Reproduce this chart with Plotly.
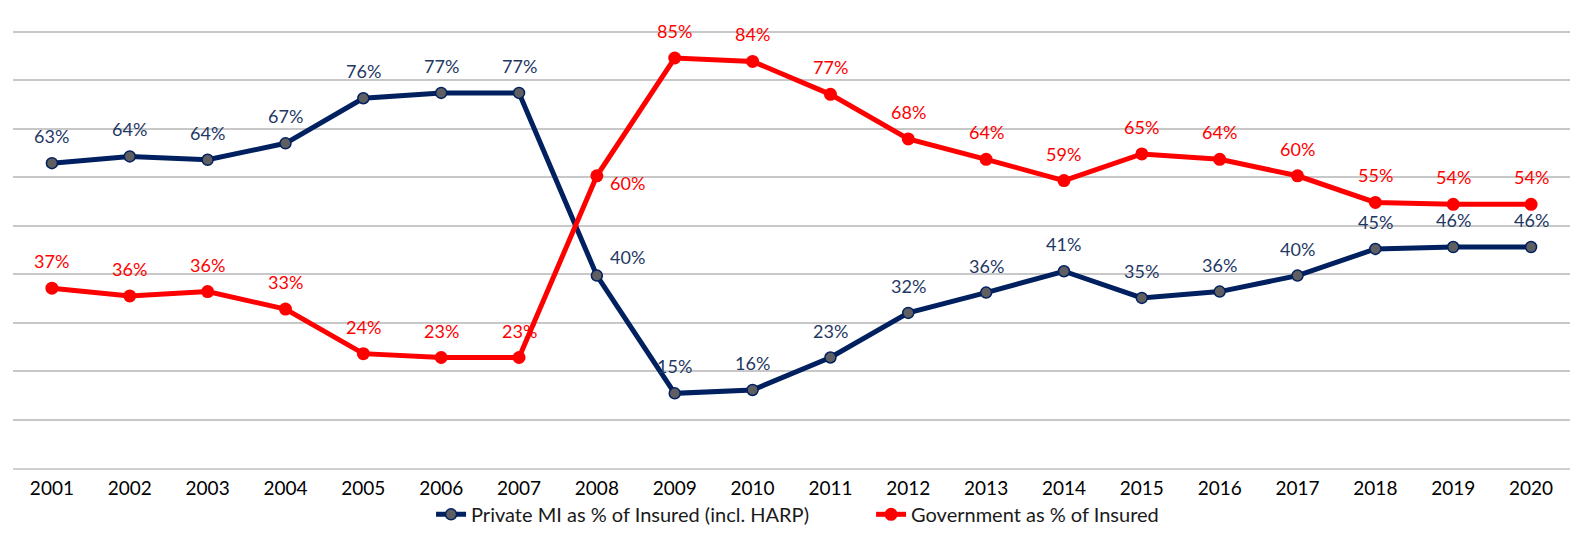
import plotly.graph_objects as go

years = [str(y) for y in range(2001, 2021)]
private_mi = [62.9, 64.3, 63.6, 67.0, 76.3, 77.4, 77.4, 39.7, 15.4, 16.1,
              22.8, 32.0, 36.2, 40.6, 35.1, 36.4, 39.7, 45.2, 45.6, 45.6]
government = [37.1, 35.5, 36.4, 32.8, 23.6, 22.8, 22.8, 60.3, 84.6, 83.9,
              77.1, 67.9, 63.7, 59.3, 64.8, 63.7, 60.3, 54.8, 54.4, 54.4]
grid_values = [0, 10, 20, 30, 40, 50, 60, 70, 80, 90]

NAVY = "#002060"
NAVY_TXT = "#1f3864"
RED = "#ff0000"
FONT = "Lato"

fig = go.Figure()
fig.add_trace(go.Scatter(
    x=years, y=private_mi, mode="lines+markers",
    name="Private MI as % of Insured (incl. HARP)",
    line=dict(color=NAVY, width=5),
    marker=dict(size=11, color="#5f5f62", line=dict(color=NAVY, width=1.5)),
))
fig.add_trace(go.Scatter(
    x=years, y=government, mode="lines+markers",
    name="Government as % of Insured",
    line=dict(color=RED, width=5),
    marker=dict(size=13, color=RED),
))

# special label offsets (xshift, yshift)
special = {("p", "2008"): (31, 19), ("g", "2008"): (31, -7)}

for key, series, color in (("p", private_mi, NAVY_TXT), ("g", government, RED)):
    for i, (yr, v) in enumerate(zip(years, series)):
        xs, ys = special.get((key, yr), (0, 27))
        fig.add_annotation(
            x=i, y=v, xref="x", yref="y", text=f"{round(v)}%", showarrow=False,
            xshift=xs, yshift=ys,
            font=dict(family=FONT, size=18, color=color),
        )

fig.update_layout(
    width=1569, height=524,
    margin=dict(l=5, r=7, t=19, b=64, autoexpand=False),
    paper_bgcolor="white", plot_bgcolor="white",
    font=dict(family=FONT, size=18, color="#000000"),
    showlegend=True,
    legend=dict(orientation="h", x=0.2685, xanchor="left", y=-0.105, yanchor="middle",
                entrywidth=395, entrywidthmode="pixels",
                font=dict(family=FONT, size=20, color="#1a1a1a")),
)
fig.update_xaxes(type="category", range=[-0.5, 19.5], showgrid=False,
                 showline=True, linecolor="#d0d0d0", linewidth=1.5,
                 ticks="", ticklabelstandoff=2, automargin=False,
                 tickfont=dict(family=FONT, size=19, color="#000000"))
fig.update_yaxes(range=[0, 91], tickvals=grid_values, automargin=False,
                 showticklabels=False, showgrid=True,
                 gridcolor="#c8c8c8", gridwidth=1.5, zeroline=False, showline=False)

fig.write_html("out.html")
